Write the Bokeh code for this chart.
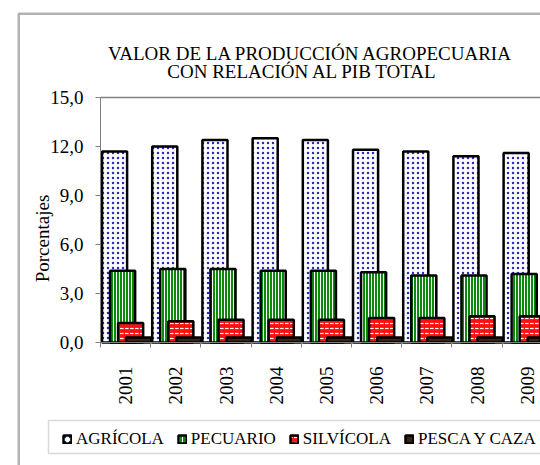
import math
from bokeh.plotting import figure
from bokeh.models import (Range1d, FixedTicker, Legend, LegendItem, LinearAxis, BoxAnnotation)
from bokeh.core.properties import value
from bokeh.embed import file_html
from bokeh.resources import INLINE

# ---- data ----
years = ["2001", "2002", "2003", "2004", "2005", "2006", "2007", "2008", "2009"]
agricola = [11.7, 12.0, 12.4, 12.5, 12.4, 11.8, 11.7, 11.4, 11.6]
pecuario = [4.4, 4.5, 4.5, 4.4, 4.4, 4.3, 4.1, 4.1, 4.2]
silvicola = [1.2, 1.3, 1.4, 1.4, 1.4, 1.5, 1.5, 1.6, 1.6]
pesca = [0.3, 0.3, 0.3, 0.3, 0.3, 0.3, 0.3, 0.3, 0.3]
series_names = ["AGRÍCOLA", "PECUARIO", "SILVÍCOLA", "PESCA Y CAZA"]
y_ticks = [0, 3, 6, 9, 12, 15]
y_tick_labels = ["0,0", "3,0", "6,0", "9,0", "12,0", "15,0"]
title_lines = ["VALOR DE LA PRODUCCIÓN AGROPECUARIA", "CON RELACIÓN AL PIB TOTAL"]
y_title = "Porcentajes"

# ---- geometry (page pixels; the canvas sits at the page's top-left corner) ----
OFF = 0
W, H = 540, 465
PLOT_L, PLOT_B = 100, 342          # page position of x=0, y=0
CAT_W = 50.2                       # px per category
Y_MAX = 15.0
PX_PER_Y = 245 / Y_MAX
SERIF = "Liberation Serif"
GRAY = "#808080"


def xd(px):
    return (px - PLOT_L) / CAT_W


def yd(py):
    return (PLOT_B - py) / PX_PER_Y


p = figure(width=W, height=H, output_backend="svg", toolbar_location=None, title=None,
           x_axis_location=None, y_axis_location=None,
           x_range=Range1d(xd(OFF), xd(OFF + W)), y_range=Range1d(yd(OFF + H), yd(OFF)),
           min_border=0)
p.outline_line_color = None
p.xgrid.visible = False
p.ygrid.visible = False
p.background_fill_color = "white"
p.border_fill_color = "white"

# outer chart frame (only its left and top edges fall inside the window)
p.add_layout(BoxAnnotation(left=xd(18.25), top=yd(13.25), right=xd(900), bottom=yd(900),
                           fill_color=None, line_color="black", line_width=2.5))

# bars
idx = list(range(len(years)))
bar_w = 0.5
offsets = [0.28, 0.44, 0.60, 0.76]
styles = [
    dict(fill_color="white", hatch_pattern="dot", hatch_color="#2a2abf", hatch_scale=5, hatch_weight=3),
    dict(fill_color="#0b8a0b", hatch_pattern="vertical_line", hatch_color="white", hatch_scale=3, hatch_weight=1),
    dict(fill_color="#ff1010", hatch_pattern="horizontal_dash", hatch_color="white", hatch_scale=5, hatch_weight=1.2),
    dict(fill_color="#3a2414"),
]
renderers = []
for vals, off, st in zip([agricola, pecuario, silvicola, pesca], offsets, styles):
    renderers.append(p.vbar(x=[i + off for i in idx], top=vals, bottom=0, width=bar_w,
                            line_color="black", line_width=2.5, **st))

n_cat = len(years)

# y axis (fixed at x = 0)
yax = LinearAxis(fixed_location=0, bounds=(0, Y_MAX), ticker=FixedTicker(ticks=y_ticks),
                 major_label_overrides={t: l for t, l in zip(y_ticks, y_tick_labels)},
                 major_tick_out=5, major_tick_in=0, minor_tick_line_color=None,
                 axis_line_color=GRAY, major_tick_line_color=GRAY,
                 major_label_text_font=SERIF, major_label_text_font_size="19px",
                 major_label_text_color="black", major_label_standoff=12)
p.add_layout(yax, "left")

# x axis (fixed at y = 0)
xax = LinearAxis(fixed_location=0, bounds=(0, n_cat),
                 ticker=FixedTicker(ticks=[i + 0.5 for i in idx], minor_ticks=list(range(n_cat + 1))),
                 major_label_overrides={i + 0.5: y for i, y in zip(idx, years)},
                 major_tick_out=0, major_tick_in=0, minor_tick_out=5, minor_tick_in=0,
                 minor_tick_line_color=GRAY, axis_line_color=GRAY,
                 major_label_orientation=math.pi / 2, major_label_text_font=SERIF,
                 major_label_text_font_size="19px", major_label_text_color="black",
                 major_label_standoff=19)
p.add_layout(xax, "below")

# top border of the plot area
top_ax = LinearAxis(fixed_location=Y_MAX, bounds=(0, n_cat), ticker=FixedTicker(ticks=[]),
                    axis_line_color=GRAY, axis_line_width=1.5, major_tick_line_color=None,
                    minor_tick_line_color=None, major_label_text_font_size="0px")
p.add_layout(top_ax, "above")

# title and y-axis title
p.text(x=[xd(310), xd(302)], y=[yd(53), yd(70.5)], text=title_lines, text_align="center",
       text_baseline="alphabetic", text_font=value(SERIF), text_font_size=value("19px"),
       text_color="black")
p.text(x=[xd(41.5)], y=[yd(238)], text=[y_title], angle=math.pi / 2, text_align="center",
       text_baseline="middle", text_font=value(SERIF), text_font_size=value("19px"),
       text_color="black")

# legend box + legend
p.add_layout(BoxAnnotation(left=xd(48), right=xd(900), top=yd(420), bottom=yd(453),
                           fill_color="white", fill_alpha=1, line_color=GRAY, line_width=1.5))
legend = Legend(items=[LegendItem(label=n, renderers=[r]) for n, r in zip(series_names, renderers)],
                orientation="horizontal", location=(62 - OFF, OFF + H - 448.5),
                glyph_width=10, glyph_height=10, label_standoff=4, spacing=13, padding=0, margin=0,
                label_height=17, label_text_font=SERIF, label_text_font_size="17px",
                label_text_color="black", border_line_color=None, background_fill_alpha=0)
p.add_layout(legend)

open("out.html", "w").write(file_html(p, INLINE))
